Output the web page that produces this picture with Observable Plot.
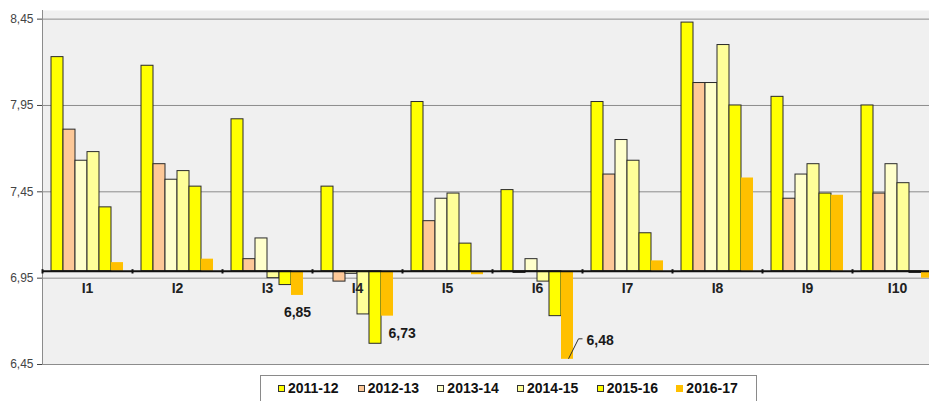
<!DOCTYPE html>
<html><head><meta charset="utf-8">
<script src="https://cdn.jsdelivr.net/npm/d3@7"></script>
<script src="https://cdn.jsdelivr.net/npm/@observablehq/plot@0.6"></script>
<style>
body{margin:0;background:#fff;overflow:hidden;font-family:"Liberation Sans",Arial,sans-serif;}
#wrap{position:relative;width:929px;height:401px;overflow:hidden;}
#legend{position:absolute;left:260px;top:375px;width:497px;height:30px;border:1px solid #8a8a8a;background:#fff;box-sizing:border-box;display:flex;align-items:flex-start;padding-left:17px;padding-top:4px;}
.item{display:flex;align-items:center;width:80.5px;font-weight:bold;font-size:14px;line-height:16px;color:#111;}
.sw{width:7px;height:7px;border:1px solid #333;margin-right:3px;box-sizing:border-box;}
</style></head>
<body>
<div id="wrap"><div id="chart"></div><div id="legend"></div></div>
<script>
const cats = ["I1","I2","I3","I4","I5","I6","I7","I8","I9","I10"];
const series = ["2011-12","2012-13","2013-14","2014-15","2015-16","2016-17"];
const v2011_12 = [8.23, 8.18, 7.87, 7.48, 7.97, 7.46, 7.97, 8.43, 8.00, 7.95];
const v2012_13 = [7.81, 7.61, 7.06, 6.93, 7.28, 6.98, 7.55, 8.08, 7.41, 7.44];
const v2013_14 = [7.63, 7.52, 7.18, 6.975, 7.41, 7.06, 7.75, 8.08, 7.55, 7.61];
const v2014_15 = [7.68, 7.57, 6.95, 6.74, 7.44, 6.93, 7.63, 8.30, 7.61, 7.50];
const v2015_16 = [7.36, 7.48, 6.91, 6.57, 7.15, 6.73, 7.21, 7.95, 7.44, 6.98];
const v2016_17 = [7.04, 7.06, 6.85, 6.73, 6.97, 6.48, 7.05, 7.53, 7.43, 6.95];
const values = [v2011_12, v2012_13, v2013_14, v2014_15, v2015_16, v2016_17];
const colors = ["#ffff00", "#fdc898", "#ffffcc", "#ffff99", "#ffff00", "#ffc000"];
const base = 6.99;
const yTicks = [6.45, 6.95, 7.45, 7.95, 8.45];
const yDomain = [6.45, 8.5];
const annCats = ["I3", "I4", "I6"];
const annValues = [6.85, 6.73, 6.48];
const annLabels = ["6,85", "6,73", "6,48"];

const rows = cats.flatMap((c, i) => series.map((s, j) => ({cat: c, series: s, value: values[j][i]})));
const ann = annCats.map((c, i) => ({cat: c, value: annValues[i], label: annLabels[i]}));
const fmt = d => d.toFixed(2).replace(".", ",");

const bars = series.map((s, j) => Plot.barY(rows.filter(d => d.series === s), {
  x: "cat", y1: () => base, y2: "value",
  fill: colors[j], stroke: j < 5 ? "#2a2a2a" : "none", strokeWidth: 1,
  insetLeft: 9 + 12 * j, insetRight: 69 - 12 * j
}));

const annStyle = {fontSize: 14, fontWeight: "bold", fill: "#1a1a1a"};
const plot = Plot.plot({
  width: 929, height: 372,
  marginLeft: 42, marginRight: 0, marginTop: 10, marginBottom: 8,
  style: {fontFamily: "'Liberation Sans', Arial, sans-serif", fontSize: "12px", color: "#444", background: "transparent", overflow: "hidden"},
  x: {domain: cats, range: [42, 942], padding: 0, axis: null},
  y: {domain: yDomain, ticks: yTicks, tickFormat: fmt, tickSize: 5, tickPadding: 4, label: null},
  marks: [
    Plot.frame({fill: "#f0f0f0", stroke: null}),
    Plot.ruleY(yTicks, {stroke: "#8c8c8c", strokeWidth: 1}),
    Plot.ruleX([cats[0]], {x: d => d, dx: -45, y1: () => yDomain[0], y2: () => yDomain[1], stroke: "#8c8c8c"}),
    ...bars,
    Plot.ruleY([base], {stroke: "#111", strokeWidth: 2}),
    Plot.ruleX(cats, {x: d => d, dx: -45, y1: () => base + 0.009, y2: () => base - 0.016, stroke: "#111", strokeWidth: 2}),
    Plot.text(cats, {x: d => d, y: () => base, dy: 17, fontSize: 14, fontWeight: "bold", fill: "#222"}),
    Plot.text(ann.filter(d => d.cat === "I3"), {x: "cat", y: "value", text: "label", dx: 30, dy: 17, textAnchor: "middle", ...annStyle}),
    Plot.text(ann.filter(d => d.cat === "I4"), {x: "cat", y: "value", text: "label", dx: 31, dy: 17, textAnchor: "start", ...annStyle}),
    Plot.text(ann.filter(d => d.cat === "I6"), {x: "cat", y: "value", text: "label", dx: 49, dy: -19, textAnchor: "start", ...annStyle})
  ]
});
document.getElementById("chart").appendChild(plot);

// leader line for the 6,48 annotation, positioned through the plot's own scales
const xs = plot.scale("x"), ys = plot.scale("y");
const a = ann.find(d => d.cat === "I6");
const x0 = xs.apply(a.cat), yb = ys.apply(a.value);
d3.select(plot).append("path")
  .attr("d", `M${x0 + 76.5},${yb} L${x0 + 86.5},${yb - 20} L${x0 + 90.5},${yb - 20}`)
  .attr("fill", "none").attr("stroke", "#333").attr("stroke-width", 1);

// legend
const lg = d3.select("#legend");
series.forEach((s, j) => {
  const it = lg.append("div").attr("class", "item");
  it.append("div").attr("class", "sw").style("background", colors[j]).style("border-color", j < 5 ? "#333" : colors[j]);
  it.append("span").text(s);
});
</script>
</body></html>
